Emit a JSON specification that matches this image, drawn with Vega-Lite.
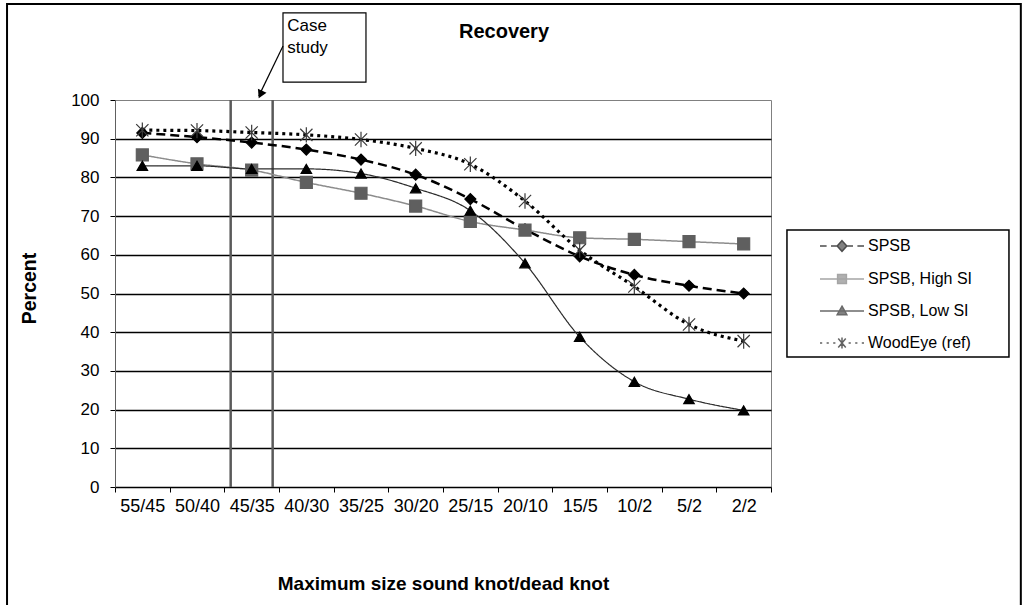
{
  "$schema": "https://vega.github.io/schema/vega-lite/v6.json",
  "width": 656,
  "height": 387,
  "autosize": {"type": "none"},
  "padding": {"left": 115, "top": 100, "right": 256, "bottom": 118},
  "background": "white",
  "title": {"text": "Recovery", "font": "Liberation Sans", "fontSize": 20, "fontWeight": "bold", "color": "black", "anchor": "middle", "frame": "group", "dx": 61, "offset": 0, "dy": 39},
  "config": {
    "view": {"fill": "#c3c3c3", "stroke": "#808080", "strokeWidth": 1},
    "font": "Liberation Sans",
    "legend": {"orient": "none", "legendX": 672, "legendY": 111, "padding": 12, "labelFont": "Liberation Sans", "labelFontSize": 16, "labelColor": "black", "symbolSize": 1936, "symbolStrokeWidth": 1.5, "symbolOffset": 20, "labelOffset": 3, "rowPadding": 1, "titlePadding": 0}
  },
  "datasets": {
    "recovery": [
      {"size": "55/45", "series": "SPSB", "value": 91.5},
      {"size": "50/40", "series": "SPSB", "value": 90.4},
      {"size": "45/35", "series": "SPSB", "value": 89.0},
      {"size": "40/30", "series": "SPSB", "value": 87.2},
      {"size": "35/25", "series": "SPSB", "value": 84.6},
      {"size": "30/20", "series": "SPSB", "value": 80.7},
      {"size": "25/15", "series": "SPSB", "value": 74.4},
      {"size": "20/10", "series": "SPSB", "value": 66.6},
      {"size": "15/5", "series": "SPSB", "value": 59.6},
      {"size": "10/2", "series": "SPSB", "value": 54.8},
      {"size": "5/2", "series": "SPSB", "value": 52.0},
      {"size": "2/2", "series": "SPSB", "value": 50.0},
      {"size": "55/45", "series": "SPSB, High SI", "value": 85.8},
      {"size": "50/40", "series": "SPSB, High SI", "value": 83.5},
      {"size": "45/35", "series": "SPSB, High SI", "value": 81.9},
      {"size": "40/30", "series": "SPSB, High SI", "value": 78.7},
      {"size": "35/25", "series": "SPSB, High SI", "value": 75.9},
      {"size": "30/20", "series": "SPSB, High SI", "value": 72.6},
      {"size": "25/15", "series": "SPSB, High SI", "value": 68.6},
      {"size": "20/10", "series": "SPSB, High SI", "value": 66.4},
      {"size": "15/5", "series": "SPSB, High SI", "value": 64.4},
      {"size": "10/2", "series": "SPSB, High SI", "value": 64.0},
      {"size": "5/2", "series": "SPSB, High SI", "value": 63.4},
      {"size": "2/2", "series": "SPSB, High SI", "value": 62.8},
      {"size": "55/45", "series": "SPSB, Low SI", "value": 83.0},
      {"size": "50/40", "series": "SPSB, Low SI", "value": 83.0},
      {"size": "45/35", "series": "SPSB, Low SI", "value": 82.2},
      {"size": "40/30", "series": "SPSB, Low SI", "value": 82.2},
      {"size": "35/25", "series": "SPSB, Low SI", "value": 81.0},
      {"size": "30/20", "series": "SPSB, Low SI", "value": 77.2},
      {"size": "25/15", "series": "SPSB, Low SI", "value": 71.4},
      {"size": "20/10", "series": "SPSB, Low SI", "value": 57.8},
      {"size": "15/5", "series": "SPSB, Low SI", "value": 38.8},
      {"size": "10/2", "series": "SPSB, Low SI", "value": 27.2},
      {"size": "5/2", "series": "SPSB, Low SI", "value": 22.7},
      {"size": "2/2", "series": "SPSB, Low SI", "value": 19.8},
      {"size": "55/45", "series": "WoodEye (ref)", "value": 92.2},
      {"size": "50/40", "series": "WoodEye (ref)", "value": 92.1},
      {"size": "45/35", "series": "WoodEye (ref)", "value": 91.6},
      {"size": "40/30", "series": "WoodEye (ref)", "value": 91.0},
      {"size": "35/25", "series": "WoodEye (ref)", "value": 89.8},
      {"size": "30/20", "series": "WoodEye (ref)", "value": 87.5},
      {"size": "25/15", "series": "WoodEye (ref)", "value": 83.4},
      {"size": "20/10", "series": "WoodEye (ref)", "value": 73.9},
      {"size": "15/5", "series": "WoodEye (ref)", "value": 61.2},
      {"size": "10/2", "series": "WoodEye (ref)", "value": 51.8},
      {"size": "5/2", "series": "WoodEye (ref)", "value": 42.0},
      {"size": "2/2", "series": "WoodEye (ref)", "value": 37.7}
    ],
    "seriesList": [
      {"series": "SPSB"},
      {"series": "SPSB, High SI"},
      {"series": "SPSB, Low SI"},
      {"series": "WoodEye (ref)"}
    ],
    "caseLines": [
      {"pos": 2.116},
      {"pos": 2.884}
    ],
    "one": [{}]
  },
  "layer": [
    {
      "data": {"name": "caseLines"},
      "mark": {"type": "rule", "color": "#5a5a5a", "strokeWidth": 2.5},
      "encoding": {
        "x": {"field": "pos", "type": "quantitative", "scale": {"domain": [0, 12], "nice": false, "zero": false}, "axis": null},
        "y": {"datum": 0, "type": "quantitative", "scale": {"domain": [0, 100], "nice": false}, "axis": null},
        "y2": {"datum": 100}
      }
    },
    {
      "data": {"name": "recovery"},
      "encoding": {
        "x": {
          "field": "size", "type": "nominal",
          "scale": {"type": "band", "domain": ["55/45", "50/40", "45/35", "40/30", "35/25", "30/20", "25/15", "20/10", "15/5", "10/2", "5/2", "2/2"], "paddingInner": 0, "paddingOuter": 0},
          "axis": {"title": "Maximum size sound knot/dead knot", "titleFont": "Liberation Sans", "titleFontSize": 19, "titleFontWeight": "bold", "titleColor": "black", "titlePadding": 59, "labelFont": "Liberation Sans", "labelFontSize": 18, "labelColor": "black", "labelAngle": 0, "labelPadding": 5, "tickBand": "extent", "tickColor": "black", "tickSize": 5, "domainColor": "black", "domainWidth": 1.5, "grid": false}
        },
        "y": {
          "field": "value", "type": "quantitative",
          "scale": {"domain": [0, 100], "nice": false},
          "axis": {"title": "Percent", "titleFont": "Liberation Sans", "titleFontSize": 19.5, "titleFontWeight": "bold", "titleColor": "black", "titlePadding": 31, "titleY": 188, "values": [0, 10, 20, 30, 40, 50, 60, 70, 80, 90, 100], "labelFont": "Liberation Sans", "labelFontSize": 17, "labelColor": "black", "labelPadding": 11, "tickColor": "black", "tickSize": 5, "domainColor": "#606060", "grid": true, "gridColor": "black", "gridWidth": 1.5, "gridOpacity": {"condition": {"test": "datum.value >= 100 || datum.value <= 0", "value": 0}, "value": 1}}
        }
      },
      "layer": [
        {
          "mark": {"type": "line", "interpolate": "monotone"},
          "encoding": {
            "color": {"field": "series", "type": "nominal", "scale": {"domain": ["SPSB", "SPSB, High SI", "SPSB, Low SI", "WoodEye (ref)"], "range": ["#000000", "#8c8c8c", "#2b2b2b", "#000000"]}, "legend": null},
            "strokeDash": {"field": "series", "type": "nominal", "scale": {"type": "ordinal", "domain": ["SPSB", "SPSB, High SI", "SPSB, Low SI", "WoodEye (ref)"], "range": [[9, 5], [1, 0], [1, 0], [3, 4]]}, "legend": null},
            "strokeWidth": {"field": "series", "type": "nominal", "scale": {"type": "ordinal", "domain": ["SPSB", "SPSB, High SI", "SPSB, Low SI", "WoodEye (ref)"], "range": [2.5, 1.5, 1.2, 3.2]}, "legend": null}
          }
        },
        {
          "mark": {"type": "point", "filled": true, "opacity": 1, "strokeWidth": 1.2},
          "encoding": {
            "shape": {"field": "series", "type": "nominal", "scale": {"domain": ["SPSB", "SPSB, High SI", "SPSB, Low SI", "WoodEye (ref)"], "range": ["diamond", "square", "triangle-up", "M-1,-1L1,1M-1,1L1,-1M0,-1.25L0,1.25"]}, "legend": null},
            "fill": {"field": "series", "type": "nominal", "scale": {"domain": ["SPSB", "SPSB, High SI", "SPSB, Low SI", "WoodEye (ref)"], "range": ["#000000", "#5f5f5f", "#000000", "transparent"]}, "legend": null},
            "stroke": {"field": "series", "type": "nominal", "scale": {"domain": ["SPSB", "SPSB, High SI", "SPSB, Low SI", "WoodEye (ref)"], "range": ["#000000", "#5f5f5f", "#000000", "#3a3a3a"]}, "legend": null},
            "size": {"field": "series", "type": "nominal", "scale": {"type": "ordinal", "domain": ["SPSB", "SPSB, High SI", "SPSB, Low SI", "WoodEye (ref)"], "range": [121, 144, 110, 150]}, "legend": null}
          }
        }
      ]
    },
    {
      "data": {"name": "one"},
      "mark": {"type": "rect", "fill": "white", "stroke": "black", "strokeWidth": 1.5},
      "encoding": {
        "x": {"datum": 12.292, "type": "quantitative", "scale": {"domain": [0, 12], "nice": false, "zero": false}, "axis": null},
        "x2": {"datum": 16.353},
        "y": {"datum": 66.4, "type": "quantitative", "scale": {"domain": [0, 100], "nice": false}, "axis": null},
        "y2": {"datum": 33.6}
      }
    },
    {
      "data": {"name": "seriesList"},
      "transform": [{"filter": "false"}],
      "mark": {"type": "point", "filled": true},
      "encoding": {
        "shape": {"field": "series", "type": "nominal", "title": null, "scale": {"domain": ["SPSB", "SPSB, High SI", "SPSB, Low SI", "WoodEye (ref)"], "range": [
          "M-1,0L-0.7,0M-0.5,0L-0.24,0M0.24,0L0.5,0M0.7,0L1,0M0,-0.24L0.22,0L0,0.24L-0.22,0Z",
          "M-1,0L1,0M-0.2,-0.2L0.2,-0.2L0.2,0.2L-0.2,0.2Z",
          "M-1,0L1,0M0,-0.22L0.22,0.17L-0.22,0.17Z",
          "M-1,0L-0.9,0M-0.7,0L-0.6,0M-0.4,0L-0.3,0M0.3,0L0.4,0M0.6,0L0.7,0M0.9,0L1,0M-0.17,-0.2L0.17,0.2M-0.17,0.2L0.17,-0.2M0,-0.25L0,0.25"
        ]}},
        "fill": {"field": "series", "type": "nominal", "title": null, "scale": {"domain": ["SPSB", "SPSB, High SI", "SPSB, Low SI", "WoodEye (ref)"], "range": ["#000000", "#5f5f5f", "#000000", "transparent"]}},
        "stroke": {"field": "series", "type": "nominal", "title": null, "scale": {"domain": ["SPSB", "SPSB, High SI", "SPSB, Low SI", "WoodEye (ref)"], "range": ["#000000", "#808080", "#2b2b2b", "#222222"]}}
      }
    },
    {
      "data": {"name": "one"},
      "mark": {"type": "rect", "fill": "white", "stroke": "black", "strokeWidth": 1.2},
      "encoding": {
        "x": {"datum": 3.073, "type": "quantitative", "scale": {"domain": [0, 12], "nice": false, "zero": false}, "axis": null},
        "x2": {"datum": 4.591},
        "y": {"datum": 122.5, "type": "quantitative", "scale": {"domain": [0, 100], "nice": false}, "axis": null},
        "y2": {"datum": 104.6}
      }
    },
    {
      "data": {"name": "one"},
      "mark": {"type": "text", "align": "left", "baseline": "top", "fontSize": 17, "font": "Liberation Sans", "color": "black", "lineHeight": 22},
      "encoding": {
        "x": {"datum": 3.15, "type": "quantitative", "scale": {"domain": [0, 12], "nice": false, "zero": false}, "axis": null},
        "y": {"datum": 121.3, "type": "quantitative", "scale": {"domain": [0, 100], "nice": false}, "axis": null},
        "text": {"value": ["Case", "study"]}
      }
    },
    {
      "data": {"name": "one"},
      "mark": {"type": "rule", "color": "black", "strokeWidth": 1.2},
      "encoding": {
        "x": {"datum": 3.073, "type": "quantitative", "scale": {"domain": [0, 12], "nice": false, "zero": false}, "axis": null},
        "x2": {"datum": 2.63},
        "y": {"datum": 113.95, "type": "quantitative", "scale": {"domain": [0, 100], "nice": false}, "axis": null},
        "y2": {"datum": 101}
      }
    },
    {
      "data": {"name": "one"},
      "mark": {"type": "point", "shape": "triangle-down", "filled": true, "color": "black", "opacity": 1, "size": 90, "angle": 25},
      "encoding": {
        "x": {"datum": 2.661, "type": "quantitative", "scale": {"domain": [0, 12], "nice": false, "zero": false}, "axis": null},
        "y": {"datum": 101.4, "type": "quantitative", "scale": {"domain": [0, 100], "nice": false}, "axis": null}
      }
    },
    {
      "data": {"name": "one"},
      "mark": {"type": "rect", "fill": null, "fillOpacity": 0, "stroke": "black", "strokeWidth": 2},
      "encoding": {
        "x": {"datum": -1.975, "type": "quantitative", "scale": {"domain": [0, 12], "nice": false, "zero": false}, "axis": null},
        "x2": {"datum": 16.57},
        "y": {"datum": 124.8, "type": "quantitative", "scale": {"domain": [0, 100], "nice": false}, "axis": null},
        "y2": {"datum": -33}
      }
    }
  ],
  "resolve": {"scale": {"x": "independent", "y": "independent", "shape": "independent", "fill": "independent", "stroke": "independent", "size": "independent", "color": "independent", "strokeDash": "independent", "strokeWidth": "independent"}}
}
